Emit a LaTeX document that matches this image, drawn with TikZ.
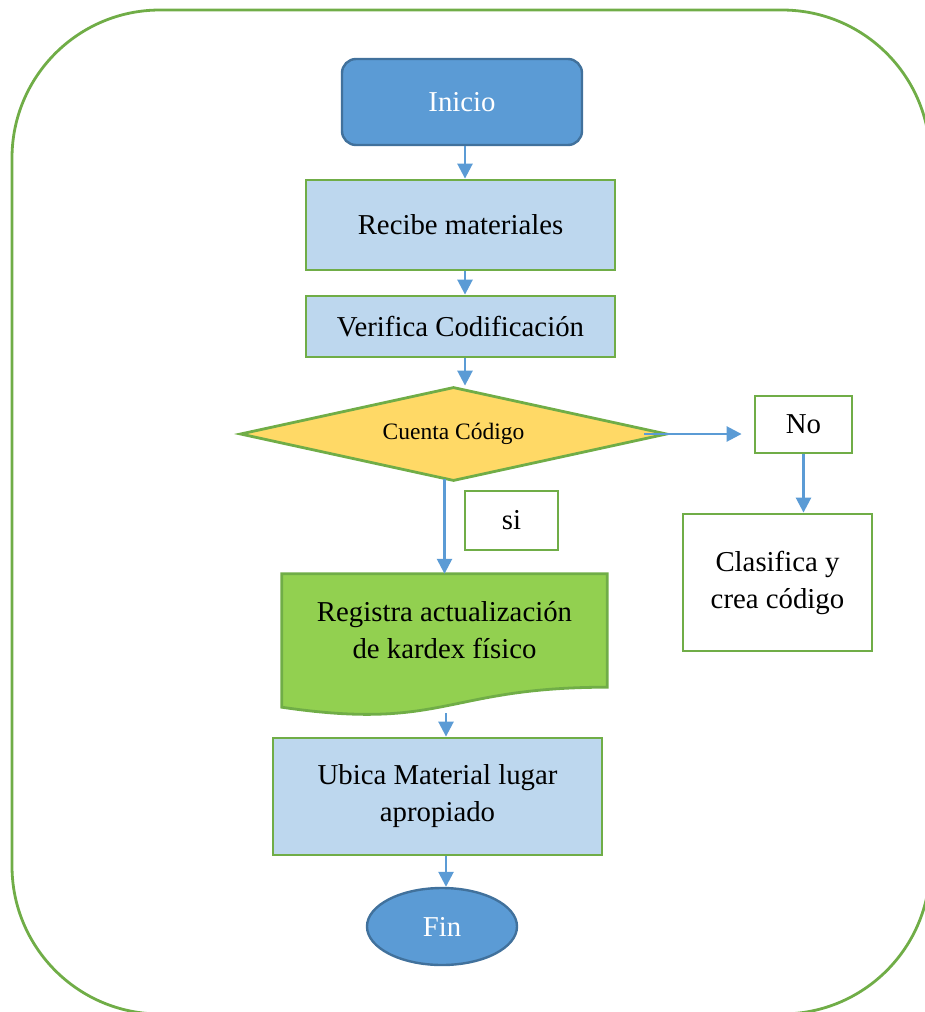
\documentclass[tikz,border=0pt]{standalone}
\usepackage{fontspec}
\setmainfont{Liberation Serif}
\usetikzlibrary{shapes.geometric,arrows.meta,calc,backgrounds}
\definecolor{azul}{HTML}{5B9BD5}
\definecolor{azulos}{HTML}{41719C}
\definecolor{celeste}{HTML}{BDD7EE}
\definecolor{verde}{HTML}{70AD47}
\definecolor{verdecl}{HTML}{92D050}
\definecolor{amarillo}{HTML}{FFD966}
\tikzset{
  term/.style={draw=azulos, fill=azul, text=white, line width=2.4pt, inner sep=0pt, font=\fontsize{28.8}{37}\selectfont},
  proc/.style={draw=verde, fill=celeste, line width=2.8pt, align=center, inner sep=0pt, font=\fontsize{28.8}{37}\selectfont},
  lbl/.style={draw=verde, fill=white, line width=2.8pt, align=center, inner sep=0pt, font=\fontsize{28.8}{37}\selectfont},
  fl/.style={-{Triangle[length=15pt,width=15pt]}, azul, line width=2.6pt},
}
\begin{document}
\begin{tikzpicture}[x=1pt, y=-1pt]
\useasboundingbox (0,0) rectangle (924,1012);
\draw[verde, line width=2.8pt, rounded corners=148pt] (12,10) rectangle (930,1014);
% flujo principal
\node[term, rounded corners=14pt, minimum width=240pt, minimum height=86pt] (ini) at (462,102) {Inicio};
\node[proc, minimum width=309pt, minimum height=90pt] (rec) at (460.5,225) {Recibe materiales};
\node[proc, minimum width=309pt, minimum height=61pt] (ver) at (460.5,326.5) {Verifica Codificación};
\node[diamond, aspect=4.5, draw=verde, fill=amarillo, line width=2.8pt, inner sep=0pt, minimum width=427pt, minimum height=94pt, font=\fontsize{23.5}{28}\selectfont] (dec) at (453.5,434) {\raisebox{-4pt}{Cuenta Código}};
\node[lbl, minimum width=97pt, minimum height=57pt] (no) at (803.5,424.5) {No};
\node[lbl, minimum width=93pt, minimum height=59pt] (si) at (511.5,520.5) {si};
\node[lbl, minimum width=189pt, minimum height=137pt] (cla) at (777.5,582.5) {Clasifica y\\crea código};
\node[align=center, inner sep=0pt, minimum width=325pt, minimum height=113pt, font=\fontsize{28.8}{37}\selectfont] (reg) at (444.5,630.5) {Registra actualización\\de kardex físico};
\begin{scope}[on background layer]
\draw[verde, fill=verdecl, line width=2.8pt] (reg.north west) -- (reg.north east) -- (reg.south east)
  .. controls (reg.south) and ($(reg.south)+(0,44)$) .. ($(reg.south west)+(0,20)$) -- cycle;
\end{scope}
\node[proc, minimum width=329pt, minimum height=117pt] (ubi) at (437.5,796.5) {Ubica Material lugar\\apropiado};
\node[term, ellipse, minimum width=150pt, minimum height=77pt] (fin) at (442,926.5) {Fin};
% conectores
\coordinate (eje) at (465,0);
\coordinate (regpie) at (446,713);
\draw[fl] (eje |- ini.south) -- (eje |- rec.north);
\draw[fl] (eje |- rec.south) -- (eje |- ver.north);
\draw[fl] (eje |- ver.south) -- (eje |- dec.north);
\draw[fl, shorten <=-24pt, shorten >=12pt] (dec.east) -- (no.west |- dec.east);
\draw[fl] (no.south) -- (no.south |- cla.north);
\draw[fl, shorten <=-3pt] (reg.north |- dec.south) -- (reg.north);
\draw[fl] (regpie) -- (regpie |- ubi.north);
\draw[fl] (regpie |- ubi.south) -- (regpie |- fin.north);
\end{tikzpicture}
\end{document}
